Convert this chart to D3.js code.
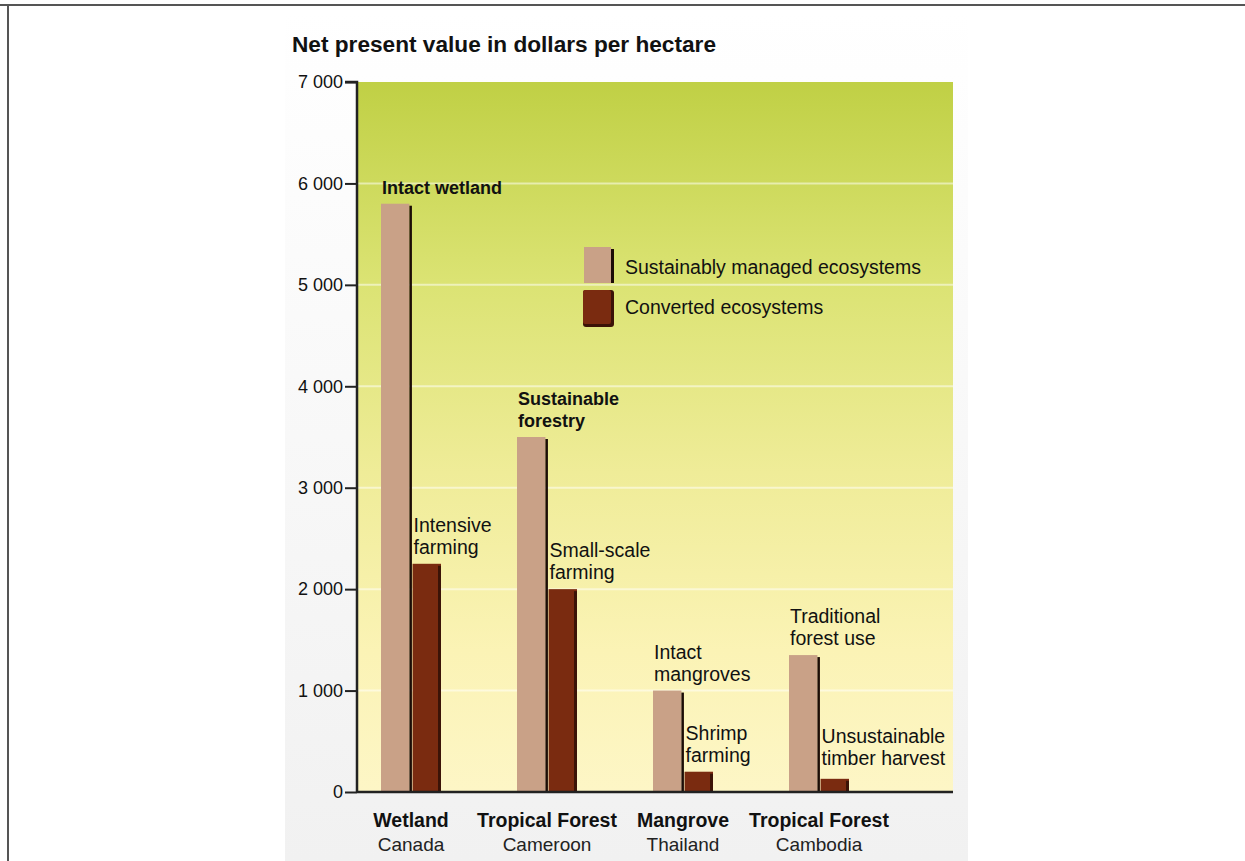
<!DOCTYPE html>
<html>
<head>
<meta charset="utf-8">
<script src="https://cdn.jsdelivr.net/npm/d3@7"></script>
<style>
  body { margin: 0; background: #fff; }
  svg { display: block; }
  text { font-family: "Liberation Sans", Arial, sans-serif; fill: #111; }
</style>
</head>
<body>
<svg id="chart" width="1245" height="861"></svg>
<script>
// Chart data
var groups = ['Wetland', 'Tropical Forest', 'Mangrove', 'Tropical Forest ']; // trailing space keeps band keys unique
var groupNames = ['Wetland', 'Tropical Forest', 'Mangrove', 'Tropical Forest'];
var countries = ['Canada', 'Cameroon', 'Thailand', 'Cambodia'];
var sustainable = [5800, 3500, 1000, 1350];
var converted = [2250, 2000, 200, 130];
var sustLabels = [['Intact wetland'], ['Sustainable', 'forestry'], ['Intact', 'mangroves'], ['Traditional', 'forest use']];
var convLabels = [['Intensive', 'farming'], ['Small-scale', 'farming'], ['Shrimp', 'farming'], ['Unsustainable', 'timber harvest']];
var yTicks = [0, 1000, 2000, 3000, 4000, 5000, 6000, 7000];
var legendItems = ['Sustainably managed ecosystems', 'Converted ecosystems'];

var svg = d3.select('#chart');

// Layout
var plotLeft = 357, plotRight = 953,
    plotTop = 82, plotBottom = 792;

var y = d3.scaleLinear().domain([0, 7000]).range([plotBottom, plotTop]);
var x = d3.scaleBand().domain(groups).range([343, 887]);
var x1 = d3.scaleBand().domain(['sust', 'conv']).range([-30, 30]).paddingInner(0.1);

var colSust = '#c9a187',
    colConv = '#7a2b10',
    colEdge = '#1c0c06';

var defs = svg.append('defs');
var bgGrad = defs.append('linearGradient').attr('id', 'pageBg')
    .attr('x1', 0).attr('y1', 0).attr('x2', 0).attr('y2', 1);
bgGrad.append('stop').attr('offset', '0%').attr('stop-color', '#ffffff');
bgGrad.append('stop').attr('offset', '100%').attr('stop-color', '#f1f1f1');

var plotGrad = defs.append('linearGradient').attr('id', 'plotBg')
    .attr('x1', 0).attr('y1', 0).attr('x2', 0).attr('y2', 1);
[['0%', '#c0d045'], ['28%', '#dbe373'], ['55%', '#efec98'], ['80%', '#fbf3b5'], ['100%', '#fdf6c6']]
  .forEach(function(s) {
    plotGrad.append('stop').attr('offset', s[0]).attr('stop-color', s[1]);
  });

// Frame lines (top and left)
svg.append('rect').attr('x', 285).attr('y', 12).attr('width', 683).attr('height', 849)
    .attr('fill', 'url(#pageBg)');
svg.append('line').attr('x1', 0).attr('x2', 1245).attr('y1', 5).attr('y2', 5)
    .attr('stroke', '#555').attr('stroke-width', 2);
svg.append('line').attr('x1', 8).attr('x2', 8).attr('y1', 5).attr('y2', 861)
    .attr('stroke', '#555').attr('stroke-width', 2);

// Title
svg.append('text')
    .attr('x', 292).attr('y', 52)
    .attr('font-size', 22).attr('font-weight', 'bold')
    .attr('textLength', 424).attr('lengthAdjust', 'spacingAndGlyphs')
    .text('Net present value in dollars per hectare');

// Plot background
svg.append('rect')
    .attr('x', plotLeft).attr('y', plotTop)
    .attr('width', plotRight - plotLeft).attr('height', plotBottom - plotTop)
    .attr('fill', 'url(#plotBg)');

// Gridlines
svg.append('g').selectAll('line')
    .data(yTicks.filter(function(d) { return d > 0 && d < 7000; }))
  .enter().append('line')
    .attr('x1', plotLeft).attr('x2', plotRight)
    .attr('y1', function(d) { return y(d); })
    .attr('y2', function(d) { return y(d); })
    .attr('stroke', '#fff').attr('stroke-opacity', 0.5).attr('stroke-width', 2);

// Y axis
var yAxis = d3.axisLeft(y).tickValues(yTicks).tickSize(12).tickPadding(2)
    .tickFormat(function(d) { return d === 0 ? '0' : d3.format(',')(d).replace(',', ' '); });
var gy = svg.append('g').attr('transform', 'translate(' + plotLeft + ',0)').call(yAxis);
gy.select('.domain').attr('stroke', '#222').attr('stroke-width', 2.5)
    .attr('d', 'M-12,' + plotTop + 'H0V' + plotBottom);
gy.selectAll('.tick line').attr('stroke', '#222').attr('stroke-width', 2);
gy.selectAll('.tick text')
    .attr('font-size', 18).attr('fill', '#222')
    .style('font-family', '"Liberation Sans", Arial, sans-serif');

// Bars
var rows = groups.map(function(g, i) {
  return { key: g, name: groupNames[i], country: countries[i],
           sust: sustainable[i], conv: converted[i],
           sustLabel: sustLabels[i], convLabel: convLabels[i] };
});

var bars = svg.append('g').selectAll('g.group')
    .data(rows)
  .enter().append('g')
    .attr('class', 'group')
    .attr('transform', function(d) { return 'translate(' + (x(d.key) + x.bandwidth() / 2) + ',0)'; });

bars.append('rect')
    .attr('x', x1('sust'))
    .attr('y', function(d) { return y(d.sust); })
    .attr('width', x1.bandwidth())
    .attr('height', function(d) { return y(0) - y(d.sust); })
    .attr('fill', colSust);
bars.append('rect')
    .attr('x', x1('sust') + x1.bandwidth())
    .attr('y', function(d) { return y(d.sust) + 2; })
    .attr('width', 2.5)
    .attr('height', function(d) { return y(0) - y(d.sust) - 2; })
    .attr('fill', colEdge);

bars.append('rect')
    .attr('x', x1('conv'))
    .attr('y', function(d) { return y(d.conv); })
    .attr('width', x1.bandwidth())
    .attr('height', function(d) { return y(0) - y(d.conv); })
    .attr('fill', colConv);
bars.append('rect')
    .attr('x', x1('conv') + x1.bandwidth() - 3)
    .attr('y', function(d) { return y(d.conv) + 2; })
    .attr('width', 3)
    .attr('height', function(d) { return y(0) - y(d.conv) - 2; })
    .attr('fill', '#3b1307');

// Bar labels
function addLabel(sel, key, valueKey, labelKey, bold) {
  sel.each(function(d) {
    var lines = d[labelKey];
    var lastY = Math.min(y(d[valueKey]) - 10, y(0) - 27);
    var t = d3.select(this).append('text')
        .attr('font-size', bold ? 18 : 19.5)
        .attr('font-weight', bold ? 'bold' : 'normal');
    lines.forEach(function(line, j) {
      t.append('tspan')
          .attr('x', x1(key) + 1)
          .attr('y', lastY - (lines.length - 1 - j) * 22)
          .text(line);
    });
  });
}
addLabel(bars.filter(function(d, i) { return i < 2; }), 'sust', 'sust', 'sustLabel', true);
addLabel(bars.filter(function(d, i) { return i >= 2; }), 'sust', 'sust', 'sustLabel', false);
addLabel(bars, 'conv', 'conv', 'convLabel', false);

// X axis line and labels
svg.append('line')
    .attr('x1', plotLeft).attr('x2', plotRight)
    .attr('y1', plotBottom).attr('y2', plotBottom)
    .attr('stroke', '#222').attr('stroke-width', 2.5);

var xl = svg.append('g').selectAll('text')
    .data(rows)
  .enter().append('text')
    .attr('text-anchor', 'middle')
    .attr('x', function(d) { return x(d.key) + x.bandwidth() / 2; });
xl.append('tspan')
    .attr('y', 827).attr('font-size', 19.5).attr('font-weight', 'bold')
    .text(function(d) { return d.name; });
xl.append('tspan')
    .attr('x', function(d) { return x(d.key) + x.bandwidth() / 2; })
    .attr('y', 851).attr('font-size', 19).attr('fill', '#222')
    .text(function(d) { return d.country; });

// Legend
var legend = svg.append('g').attr('transform', 'translate(584,247)');
legend.append('rect').attr('x', 0).attr('y', 0).attr('width', 27).attr('height', 36).attr('fill', colSust);
legend.append('rect').attr('x', 27).attr('y', 2).attr('width', 3).attr('height', 34).attr('fill', colEdge);
legend.append('rect').attr('x', -1).attr('y', 43).attr('width', 31).attr('height', 37).attr('rx', 3).attr('fill', '#3b1307');
legend.append('rect').attr('x', -1).attr('y', 43).attr('width', 28).attr('height', 34).attr('rx', 2).attr('fill', colConv);
legend.selectAll('text.item')
    .data(legendItems)
  .enter().append('text')
    .attr('class', 'item')
    .attr('x', 41)
    .attr('y', function(d, i) { return 27 + i * 40; })
    .attr('font-size', 19.5)
    .text(function(d) { return d; });
</script>
</body>
</html>
